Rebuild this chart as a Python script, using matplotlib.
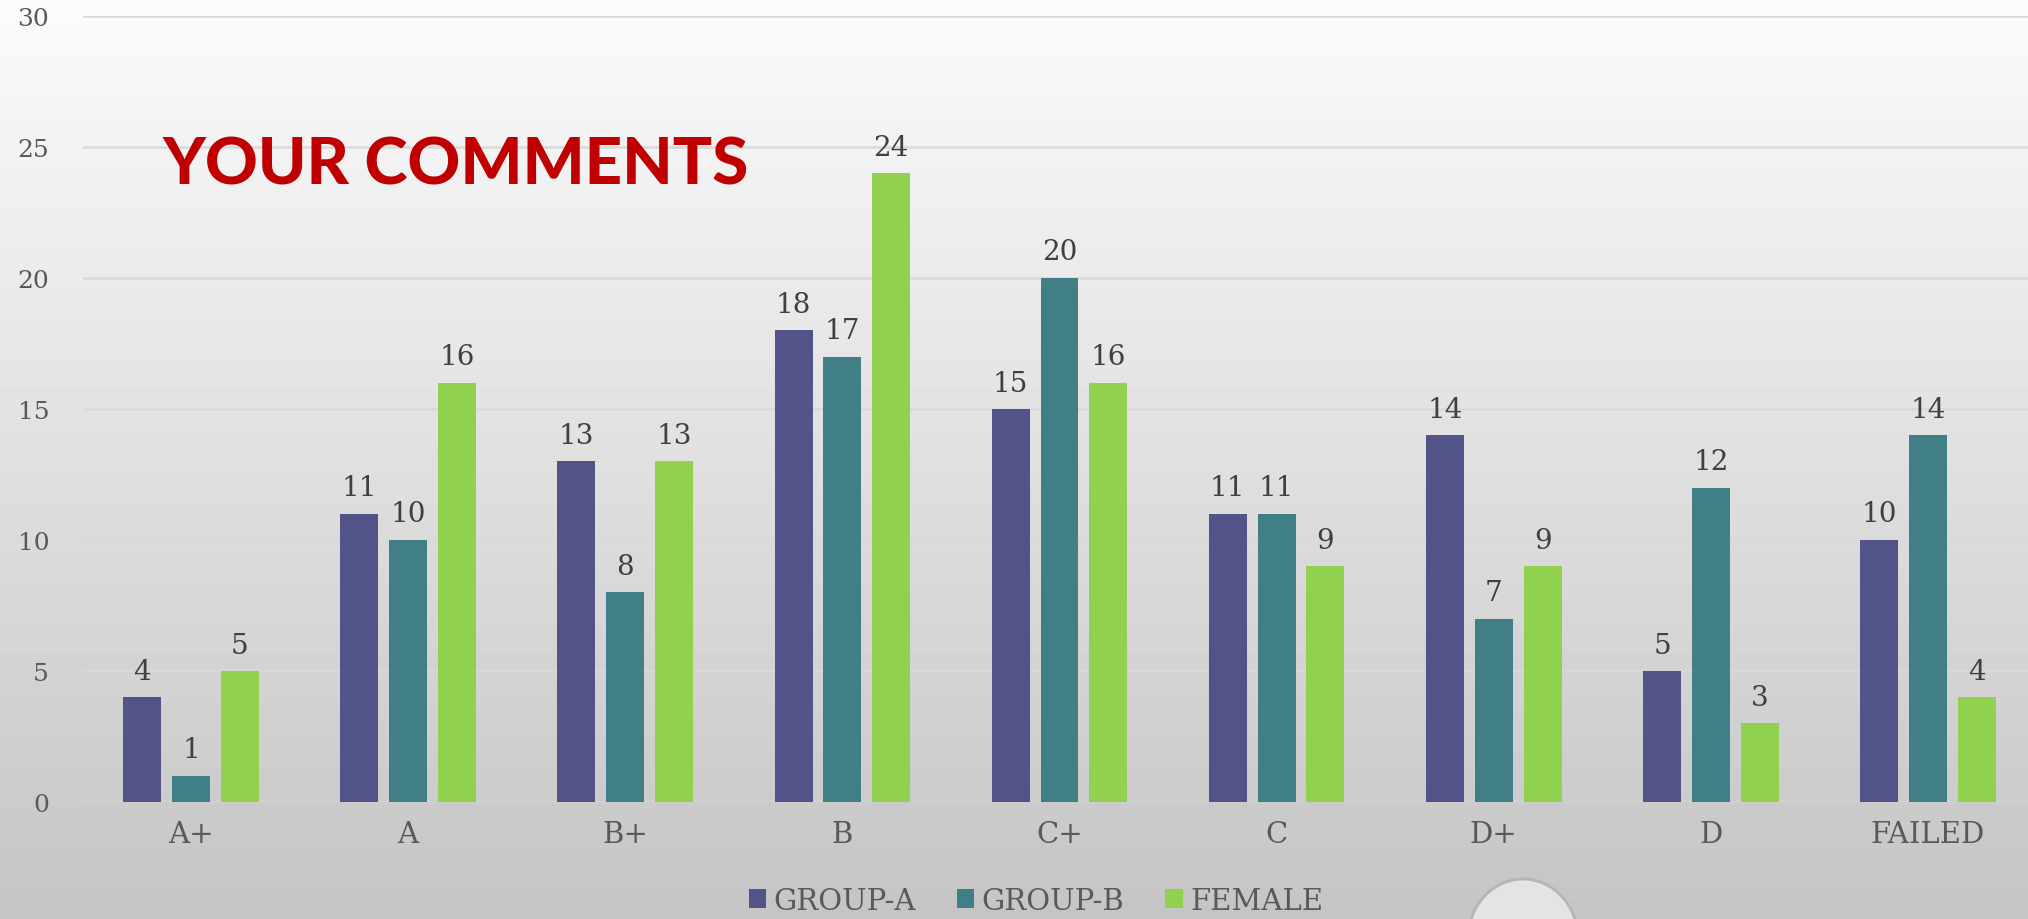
import numpy as np
import matplotlib
matplotlib.use("Agg")
import matplotlib.pyplot as plt
from matplotlib.patches import Ellipse

# grade buckets and counts per series
grades = ["A+", "A", "B+", "B", "C+", "C", "D+", "D", "FAILED"]
group_a = [4, 11, 13, 18, 15, 11, 14, 5, 10]
group_b = [1, 10, 8, 17, 20, 11, 7, 12, 14]
female = [5, 16, 13, 24, 16, 9, 9, 3, 4]
series_names = ["GROUP-A", "GROUP-B", "FEMALE"]
series_colors = ["#525388", "#417f86", "#92d050"]
yticks = [0, 5, 10, 15, 20, 25, 30]

W, H = 2028, 920
fig = plt.figure(figsize=(W / 100, H / 100), dpi=100)

# grey slide background, light at top, darker at the bottom
bg = fig.add_axes([0, 0, 1, 1], zorder=-2)
grad = np.linspace(0.985, 0.77, 256).reshape(-1, 1)
bg.imshow(grad, aspect="auto", cmap="gray", vmin=0, vmax=1, extent=[0, 1, 0, 1])
bg.axis("off")

ax = fig.add_axes([82.5 / W, 117 / H, 1954 / W, 786 / H])
ax.patch.set_alpha(0)

x = np.arange(len(grades))
bw = 0.175
step = 0.225
for i, (vals, name, col) in enumerate(zip([group_a, group_b, female], series_names, series_colors)):
    bars = ax.bar(x + (i - 1) * step, vals, bw, color=col, label=name, zorder=3)
    ax.bar_label(bars, padding=9, fontsize=20, color="#404040", family="DejaVu Serif")

ax.set_xlim(-0.5, len(grades) - 0.5)
ax.set_ylim(0, 30)
ax.set_yticks(yticks)
ax.set_xticks(x)
ax.set_xticklabels(grades)
ax.grid(axis="y", color="#d9d9d9", linewidth=1.8, zorder=0)
ax.set_axisbelow(True)
for s in ax.spines.values():
    s.set_visible(False)
ax.tick_params(length=0, labelcolor="#595959")
ax.tick_params(axis="x", pad=13, labelsize=21)
ax.tick_params(axis="y", pad=24, labelsize=18)
for lab in ax.get_xticklabels() + ax.get_yticklabels():
    lab.set_family("DejaVu Serif")

fig.text(163 / W, 1 - 166 / H, "YOUR COMMENTS", color="#c00000", fontsize=47,
         family="Lato", weight="black", va="center", ha="left")

leg = fig.legend(loc="center", bbox_to_anchor=(1036 / W, 1 - 902 / H), ncol=3, frameon=False,
                 prop={"family": "DejaVu Serif", "size": 21}, handlelength=0.6, handleheight=0.6,
                 handletextpad=0.25, columnspacing=1.4)
for t in leg.get_texts():
    t.set_color("#595959")

# decorative glass bubble near the bottom edge
fig.patches.append(Ellipse((1523 / W, 1 - 940 / H), 110 / W, 120 / H, transform=fig.transFigure,
                           facecolor="#e4e4e4", edgecolor="#b5b5b5", linewidth=2, zorder=-1))

fig.savefig("out.png", dpi=100)
